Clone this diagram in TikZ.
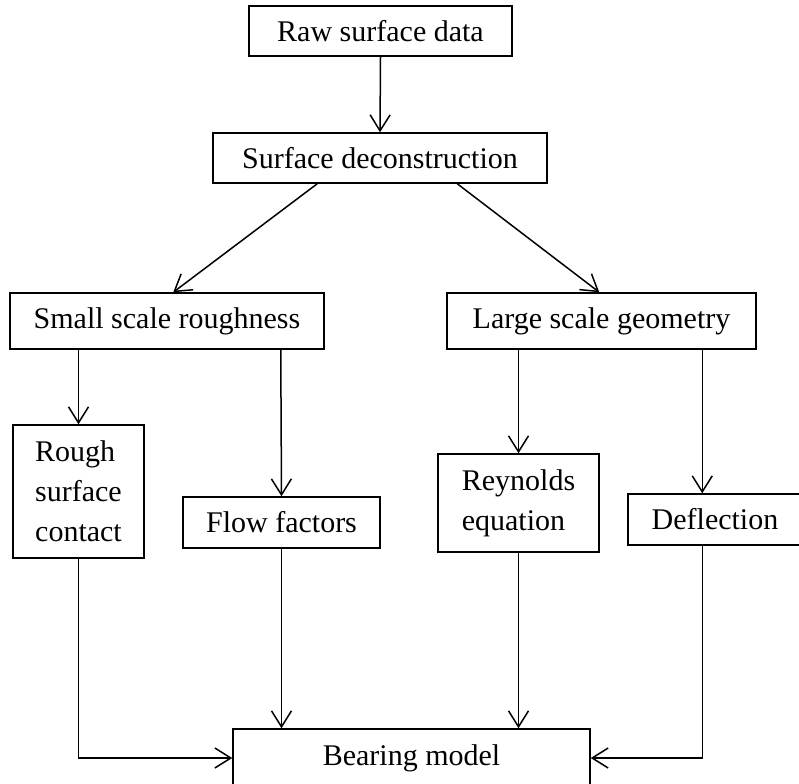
\documentclass[tikz,border=0pt]{standalone}
\usepackage{fontspec}
\setmainfont{Liberation Serif}
\usetikzlibrary{arrows.meta,calc}
\begin{document}
\begin{tikzpicture}[x=1pt,y=-1pt,line width=1.5pt,
  box/.style={draw,rectangle,inner sep=0pt,align=left,font=\fontsize{30}{40}\selectfont},
  arr/.style={-{Straight Barb[length=16pt,width=20pt]}}]
\useasboundingbox (0,0) rectangle (799,783);
\fill[white] (0,0) rectangle (799,783);
\node[box,minimum width=263pt,minimum height=50pt] (raw) at (380.5,31) {Raw surface data};
\node[box,minimum width=334pt,minimum height=50pt] (surf) at (380,158) {Surface deconstruction};
\node[box,minimum width=314pt,minimum height=56pt] (small) at (167,321) {Small scale roughness};
\node[box,minimum width=309pt,minimum height=56pt] (large) at (601.5,321) {Large scale geometry};
\node[box,minimum width=131pt,minimum height=133pt] (rough) at (78.5,491.5) {Rough\\surface\\contact};
\node[box,minimum width=197pt,minimum height=51pt] (flow) at (281.5,522.5) {Flow factors};
\node[box,minimum width=161pt,minimum height=98pt] (reyn) at (518.5,503) {Reynolds\\equation};
\node[box,minimum width=174pt,minimum height=51pt] (defl) at (715,519.5) {Deflection};
\node[box,minimum width=357pt,minimum height=58pt] (bear) at (411.5,758) {Bearing model};
% coordinates for connector ends
\coordinate (s1) at ($(surf.south west)+(105,0)$);
\coordinate (s2) at ($(surf.south west)+(245,0)$);
\coordinate (m1) at ($(small.north west)+(164,0)$);
\coordinate (l1) at ($(large.north west)+(153,0)$);
\coordinate (fx) at ($(small.south west)+(271.5,0)$);
\coordinate (dx) at ($(large.south west)+(256,0)$);
\draw[arr] (raw.south) -- (surf.north);
\draw[arr] (s1) -- (m1);
\draw[arr] (s2) -- (l1);
\draw[arr] (small.south -| rough.north) -- (rough.north);
\draw[arr] (fx) -- (flow.north);
\draw[arr] (large.south -| reyn.north) -- (reyn.north);
\draw[arr] (dx) -- (dx |- defl.north);
\draw[arr] (rough.south) |- (bear.west);
\draw[arr] (flow.south) -- (flow.south |- bear.north);
\draw[arr] (reyn.south) -- (reyn.south |- bear.north);
\draw[arr] (dx |- defl.south) |- (bear.east);
\end{tikzpicture}
\end{document}
